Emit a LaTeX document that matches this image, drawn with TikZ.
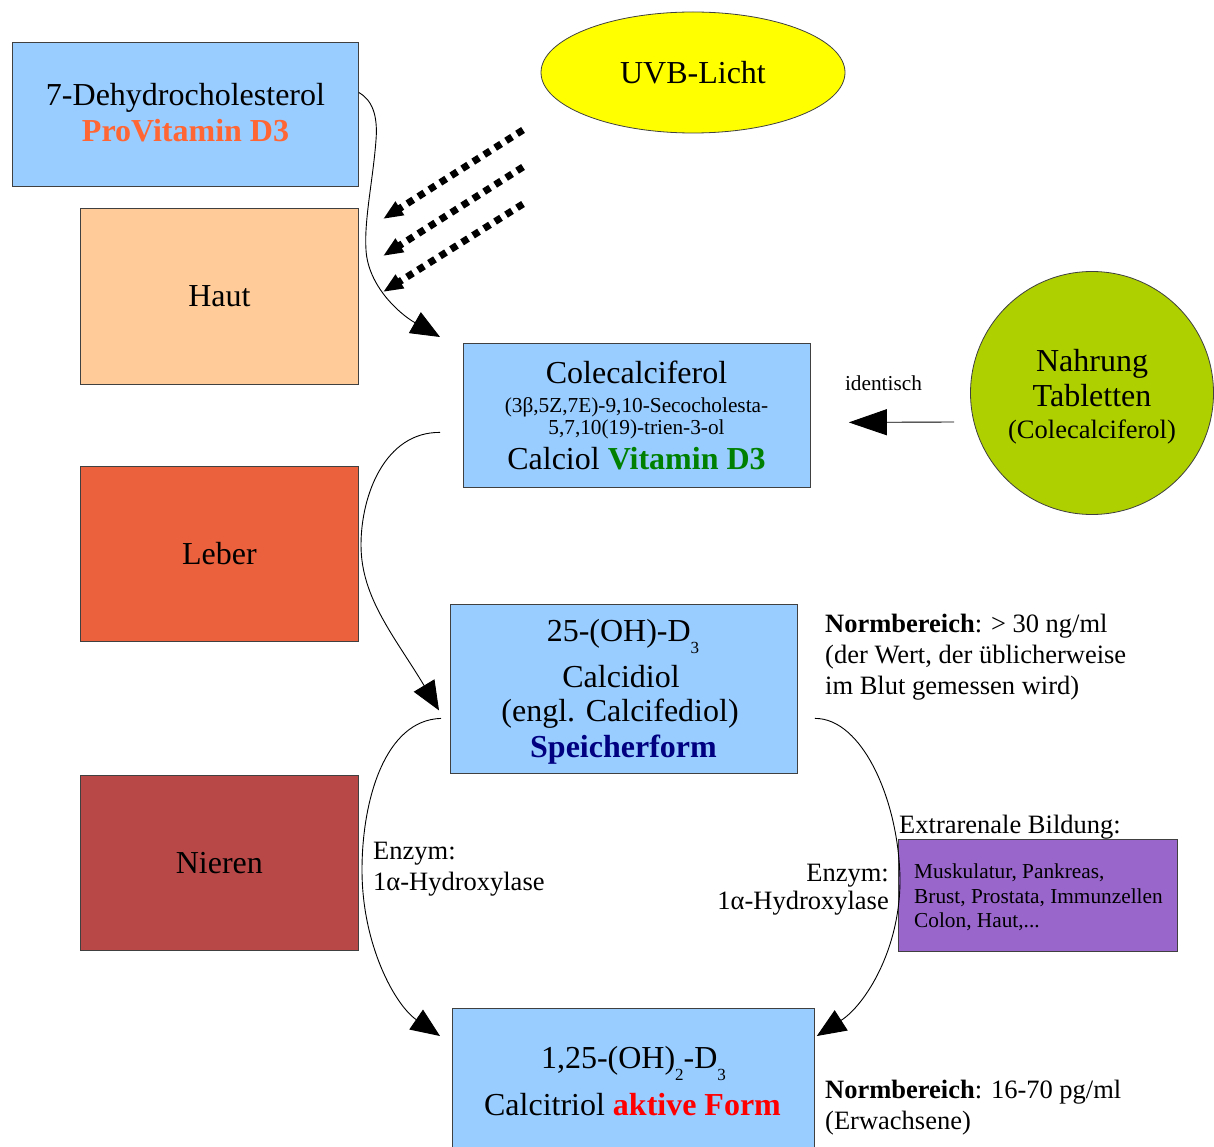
\documentclass[tikz,border=0pt]{standalone}
\usepackage{fontspec}
\setmainfont{Liberation Serif}
\usetikzlibrary{arrows.meta,shapes.geometric,calc}
\definecolor{lblue}{HTML}{99CCFF}
\definecolor{peach}{HTML}{FFCC99}
\definecolor{leber}{HTML}{EB613E}
\definecolor{nieren}{HTML}{B84848}
\definecolor{uvb}{HTML}{FFFF00}
\definecolor{food}{HTML}{AECF00}
\definecolor{purp}{HTML}{9966CC}
\definecolor{provit}{HTML}{FF6633}
\definecolor{vitgreen}{HTML}{008000}
\definecolor{navyblue}{HTML}{000080}
\definecolor{activered}{HTML}{FF0000}
\begin{document}
\begin{tikzpicture}[x=1pt,y=-1pt,
  box/.style={draw=black!75, line width=0.8pt, rectangle, inner sep=0pt, anchor=north west},
  big/.style={font=\fontsize{32}{37}\selectfont, inner sep=0pt},
  mid/.style={font=\fontsize{26.5}{31}\selectfont, inner sep=0pt},
  small/.style={font=\fontsize{21.3}{25}\selectfont, inner sep=0pt},
  conn/.style={draw=black, line width=0.9pt, -{Triangle[length=29pt,width=24pt]}},
  uvarrow/.style={draw=black, line width=7pt, dash pattern=on 7pt off 6pt, -{Triangle[length=20pt,width=15pt]}}
]
\useasboundingbox (0,0) rectangle (1214,1147);

% boxes
\node[box, fill=lblue, minimum width=346pt, minimum height=144pt] (dehydro) at (12,42) {};
\node[box, fill=peach, minimum width=278pt, minimum height=176pt, big] (haut) at (80,208) {Haut};
\node[box, fill=leber, minimum width=278pt, minimum height=175pt, big] (leber) at (80,466) {Leber};
\node[box, fill=nieren, minimum width=278pt, minimum height=175pt, big] (nieren) at (80,775) {Nieren};
\node[box, fill=lblue, minimum width=347pt, minimum height=144pt] (cole) at (463,343) {};
\node[box, fill=lblue, minimum width=347pt, minimum height=169pt] (calcidiol) at (450,604) {};
\node[box, fill=lblue, minimum width=362pt, minimum height=150pt] (calcitriol) at (452,1008) {};
\node[box, fill=purp, minimum width=279pt, minimum height=112pt] (extra) at (898,839) {};

\node[ellipse, draw=black!75, line width=0.8pt, fill=uvb, minimum width=304pt, minimum height=121pt, inner sep=0pt, big] (uvb) at (693,72.5) {UVB-Licht};
\node[circle, draw=black!75, line width=0.8pt, fill=food, minimum size=243pt, inner sep=0pt] (nahrung) at (1092,393) {};

% texts in boxes
\node[big, anchor=base] (t-dehydro) at (185.5,106) {7-Dehydrocholesterol};
\node[big, anchor=base] (t-provit) at (185.5,142) {\textcolor{provit}{\bfseries ProVitamin D3}};

\node[big, anchor=base] (t-cole) at (636.5,383) {Colecalciferol};
\node[small, anchor=base] (t-iupac1) at (636.5,412) {(3β,5Z,7E)-9,10-Secocholesta-};
\node[small, anchor=base] (t-iupac2) at (636.5,434) {5,7,10(19)-trien-3-ol};
\node[big, anchor=base] (t-calciol) at (636.5,469) {Calciol \textcolor{vitgreen}{\bfseries Vitamin D3}};

\node[big, anchor=base] (t-25oh) at (623,641) {25-(OH)-D\raisebox{-12pt}{\fontsize{17}{17}\selectfont 3}};
\node[big, anchor=base] (t-calcidiol) at (621,687) {Calcidiol};
\node[big, anchor=base] (t-engl) at (620,721) {(engl. Calcifediol)};
\node[big, anchor=base] (t-speicher) at (623.5,757) {\textcolor{navyblue}{\bfseries Speicherform}};

\node[big, anchor=base] (t-125oh) at (633.5,1068) {1,25-(OH)\raisebox{-12pt}{\fontsize{17}{17}\selectfont 2}-D\raisebox{-12pt}{\fontsize{17}{17}\selectfont 3}};
\node[big, anchor=base] (t-calcitriol) at (632.5,1115) {Calcitriol \textcolor{activered}{\bfseries aktive Form}};

\node[big, anchor=base] (t-nahrung) at (1092,371) {Nahrung};
\node[big, anchor=base] (t-tabletten) at (1092,406) {Tabletten};
\node[mid, anchor=base] (t-colec) at (1092,438) {(Colecalciferol)};

\node[small, anchor=base west] (t-m1) at (914,878) {Muskulatur, Pankreas,};
\node[small, anchor=base west] (t-m2) at (914,903) {Brust, Prostata, Immunzellen};
\node[small, anchor=base west] (t-m3) at (914,927) {Colon, Haut,...};

% free labels
\node[mid, anchor=base west] (t-extra) at (899,833) {Extrarenale Bildung:};
\node[small, anchor=base] (t-ident) at (883.5,390) {identisch};

\node[mid, anchor=base west] (t-nb1) at (825,632) {\textbf{Normbereich}: > 30 ng/ml};
\node[mid, anchor=base west] (t-nb2) at (825,663) {(der Wert, der üblicherweise};
\node[mid, anchor=base west] (t-nb3) at (825,694) {im Blut gemessen wird)};

\node[mid, anchor=base west] (t-nb4) at (825,1098) {\textbf{Normbereich}: 16-70 pg/ml};
\node[mid, anchor=base west] (t-nb5) at (825,1129) {(Erwachsene)};

\node[mid, anchor=base west] (t-enz1) at (373,859) {Enzym:};
\node[mid, anchor=base west] (t-hyd1) at (373,890) {1α-Hydroxylase};
\node[mid, anchor=base east] (t-enz2) at (889,881) {Enzym:};
\node[mid, anchor=base east] (t-hyd2) at (889,909) {1α-Hydroxylase};

% UV dotted arrows
\coordinate (u1s) at (523,130);
\coordinate (u1e) at (383,219);
\coordinate (u2s) at (523,167);
\coordinate (u2e) at (383,256);
\coordinate (u3s) at (523,204);
\coordinate (u3e) at (383,292);
\draw[uvarrow] (u1s) -- (u1e);
\draw[uvarrow] (u2s) -- (u2e);
\draw[uvarrow] (u3s) -- (u3e);

% connectors
\draw[conn] ([yshift=22pt]dehydro.east) .. controls (372,100) and (378,115) .. (376,140)
  .. controls (373,180) and (364,220) .. (366,250)
  .. controls (368,285) and (398,313) .. ([xshift=-23pt,yshift=6pt]cole.north west);

\draw[conn] ([xshift=-23pt,yshift=-17pt]cole.west) .. controls (385,432) and (361,495) .. (361,545)
  .. controls (361,598) and (395,637) .. ([xshift=-11pt,yshift=-21.5pt]calcidiol.west);

\draw[conn] ([xshift=-9pt,yshift=-29.5pt]calcidiol.west) .. controls (385,720) and (362,800) .. (362,870)
  .. controls (362,945) and (395,1005) .. ([xshift=-12pt,yshift=-28pt]calcitriol.north west);

\draw[conn] ([xshift=17pt,yshift=-29.5pt]calcidiol.east) .. controls (862,718) and (899,800) .. (900,880)
  .. controls (900,950) and (865,1005) .. ([xshift=2pt,yshift=-28pt]calcitriol.north east);

\draw[draw=black, line width=0.9pt, -{Triangle[length=38pt,width=26pt]}]
  ([xshift=-16pt,yshift=-29pt]nahrung.west) -- ([xshift=38pt,yshift=-7pt]cole.east);
\end{tikzpicture}
\end{document}
